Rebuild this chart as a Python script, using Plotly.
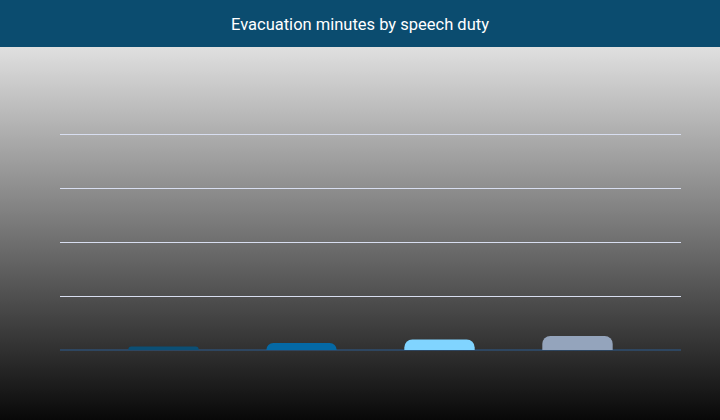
import base64

import plotly.graph_objects as go

# speech duty levels (labels are hidden in the chart)
duties = ["None", "Light", "Moderate", "Heavy"]
minutes = [0.65, 1.3, 1.95, 2.6]
bar_colors = ["#0b4f75", "#0569a5", "#80d4ff", "#94a4bc"]

W, H = 720, 420
L, R, T, B = 60, 39, 110, 70
pw, ph = W - L - R, H - T - B

# gradient backdrop for the whole page
svg = (
    '<svg xmlns="http://www.w3.org/2000/svg" width="720" height="420">'
    '<defs><linearGradient id="g" x1="0" y1="0" x2="0" y2="1">'
    '<stop offset="0" stop-color="#fbfbfb"/><stop offset="1" stop-color="#080808"/>'
    '</linearGradient></defs><rect width="720" height="420" fill="url(#g)"/></svg>'
)
bg_src = "data:image/svg+xml;base64," + base64.b64encode(svg.encode()).decode()

fig = go.Figure()
fig.add_trace(
    go.Bar(
        x=duties,
        y=minutes,
        width=0.51,
        marker=dict(color=bar_colors, line=dict(width=0)),
        hovertemplate="%{x}: %{y} min<extra></extra>",
    )
)

fig.update_layout(
    width=W,
    height=H,
    margin=dict(l=L, r=R, t=T, b=B),
    paper_bgcolor="#080808",
    plot_bgcolor="rgba(0,0,0,0)",
    barcornerradius=8,
    showlegend=False,
    font=dict(family="Roboto", color="white"),
    title=dict(
        text="Evacuation minutes by speech duty",
        x=0.5,
        xanchor="center",
        y=1 - 24 / H,
        yanchor="middle",
        yref="container",
        font=dict(size=16.5, color="white", family="Roboto"),
    ),
    images=[
        dict(
            source=bg_src,
            xref="paper",
            yref="paper",
            x=-L / pw,
            y=1 + T / ph,
            sizex=W / pw,
            sizey=H / ph,
            xanchor="left",
            yanchor="top",
            sizing="stretch",
            layer="below",
        )
    ],
    shapes=[
        dict(
            type="rect",
            xref="paper",
            yref="paper",
            x0=-L / pw,
            x1=1 + R / pw,
            y0=1 + (T - 47) / ph,
            y1=1 + T / ph,
            fillcolor="#0b4c6f",
            line=dict(width=0),
            layer="below",
        )
    ],
)

fig.update_xaxes(range=[-0.75, 3.75], showticklabels=False, showgrid=False,
                 showline=False, ticks="")
fig.update_yaxes(range=[0, ph / 5.4], dtick=10, showticklabels=False,
                 showgrid=True, gridcolor="#d8def0", gridwidth=1,
                 zeroline=True, zerolinecolor="#2e4660", zerolinewidth=2,
                 showline=False, ticks="")

# no page margin so the figure sits at the window corner
fig.write_html("out.html", config={"displayModeBar": False},
               post_script="document.body.style.margin='0';")
